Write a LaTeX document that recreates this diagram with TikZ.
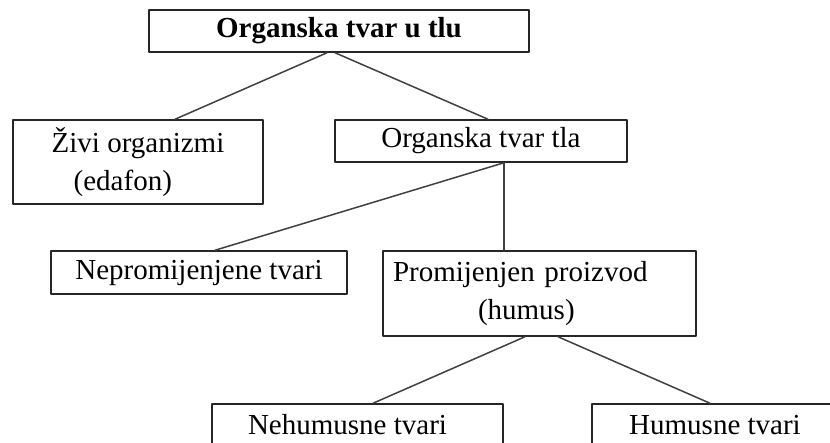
\documentclass[tikz,border=0pt]{standalone}
\usepackage{fontspec}
\setmainfont{Liberation Serif}
\usetikzlibrary{calc}

\begin{document}
\begin{tikzpicture}[
		% one unit = one pixel of the page, y running down
		x=1pt, y=-1pt,
		line join=round, line cap=round,
		box/.style={draw=black!85, line width=1.5pt, inner sep=0pt,
				font=\fontsize{29}{38}\selectfont},
		link/.style={draw=black!75, line width=1.5pt}
	]

	%-------------------
	% Canvas
	%-------------------
	\useasboundingbox (0,0) rectangle (830,443);
	\clip (0,0) rectangle (830,443);

	%-------------------
	% Level 0
	%-------------------
	\node[box, minimum width=380pt, minimum height=42pt,
		font=\fontsize{29}{38}\selectfont\bfseries] (tvar) at (339,31) {Organska tvar u tlu};

	%-------------------
	% Level 1
	%-------------------
	\node[box, minimum width=250pt, minimum height=84pt, align=left] (zivi) at (138,162)
	{Živi organizmi\\\hspace*{22pt}(edafon)};
	\node[box, minimum width=292pt, minimum height=42pt] (tla) at (481,141) {Organska tvar tla};

	%-------------------
	% Level 2
	%-------------------
	\node[box, minimum width=296pt, minimum height=43pt] (neprom) at (199,272.5) {Nepromijenjene tvari};
	\node[box, text width=293pt, inner xsep=10pt, minimum height=85pt, align=left] (humus) at (539.5,293.5)
	{Promijenjen proizvod\\\hspace*{85pt}(humus)};

	%-------------------
	% Level 3 (cut by the page edge)
	%-------------------
	\node[box, minimum width=291pt, minimum height=42pt] (nehum) at (357.5,425) {Nehumusne tvari\hspace*{20pt}};
	\node[box, minimum width=246pt, minimum height=42pt] (hum) at (715,425) {Humusne tvari};

	%-------------------
	% Connectors
	%-------------------
	\draw[link] ([xshift=-12pt]tvar.south) -- ([xshift=37pt]zivi.north);
	\draw[link] ([xshift=-4pt]tvar.south) -- ([xshift=7pt]tla.north);

	\draw[link] ([xshift=23pt]tla.south) -- ([xshift=16pt]neprom.north);
	\draw[link] ([xshift=23pt]tla.south) -- ([xshift=23pt]tla.south |- humus.north);

	\draw[link] ([xshift=-14.5pt]humus.south) -- ([xshift=15.5pt]nehum.north);
	\draw[link] ([xshift=18.5pt]humus.south) -- ([xshift=-5pt]hum.north);

\end{tikzpicture}
\end{document}
